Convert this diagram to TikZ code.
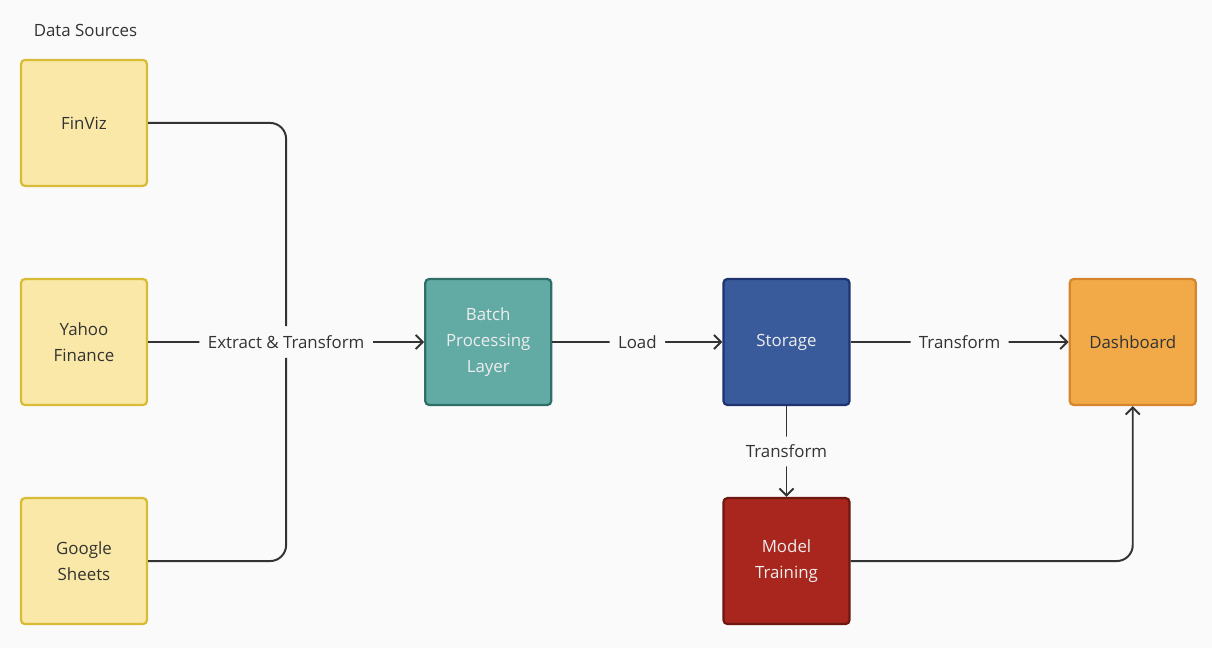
\documentclass[tikz,border=0pt]{standalone}
\usepackage{fontspec}
\setmainfont{Open Sans}
\usepackage{tikz}
\usetikzlibrary{arrows.meta, positioning}
\definecolor{paper}{HTML}{FAFAFA}
\definecolor{ink}{HTML}{333333}
\definecolor{srcfill}{HTML}{FAE8A8}
\definecolor{srcline}{HTML}{D9BC36}
\definecolor{tealfill}{HTML}{62ABA5}
\definecolor{tealline}{HTML}{2F6E69}
\definecolor{bluefill}{HTML}{3A5B9B}
\definecolor{blueline}{HTML}{1E3470}
\definecolor{orfill}{HTML}{F2AA48}
\definecolor{orline}{HTML}{D6852C}
\definecolor{redfill}{HTML}{A8261D}
\definecolor{redline}{HTML}{6E1812}
\tikzstyle{box} = [rectangle, rounded corners=0.1cm, minimum width=3.15cm, minimum height=3.15cm, line width=1.6pt, text centered, font=\fontsize{12}{18.5}\selectfont]
\tikzstyle{source} = [box, draw=srcline, fill=srcfill, text=ink]
\tikzstyle{layer} = [box, draw=tealline, fill=tealfill, text=white!93!black]
\tikzstyle{store} = [box, draw=blueline, fill=bluefill, text=white!93!black]
\tikzstyle{trainer} = [box, draw=redline, fill=redfill, text=white!93!black]
\tikzstyle{board} = [box, draw=orline, fill=orfill, text=ink]
\tikzstyle{tag} = [fill=paper, text=ink, inner xsep=6pt, inner ysep=6pt, font=\fontsize{12}{14}\selectfont]
\tikzstyle{wire} = [line width=1.4pt, draw=ink, rounded corners=0.4cm]
\tikzstyle{cable} = [wire, ->, >={Straight Barb[length=5pt, width=10pt]}]

\begin{document}
\begin{tikzpicture}[align=center, node distance = 2.27cm and 6.9cm]
\fill[paper] (0,0) rectangle (30.3,-16.2);
\useasboundingbox (0,0) rectangle (30.3,-16.2);
\node (yahoo) [source] at (2.1,-8.55) {Yahoo\\Finance};
\node (finviz) [source, above = of yahoo] {FinViz};
\node (gsheets) [source, below = of yahoo] {Google\\Sheets};
\node (srctitle) [anchor=west, text=ink, font=\fontsize{12}{14}\selectfont] at (0.72,-0.75) {Data Sources};
\node (batch) [layer, right = of yahoo] {Batch\\Processing\\Layer};
\node (storage) [store, right = 4.25cm of batch] {Storage};
\node (dash) [board, right = 5.45cm of storage] {Dashboard};
\node (model) [trainer, below = of storage] {Model\\Training};
\draw [cable] (yahoo) -- node[tag] (etl) {Extract \& Transform} (batch);
\draw [wire] (finviz) -| (etl);
\draw [wire] (gsheets) -| (etl);
\draw [cable] (batch) -- node[tag] {Load} (storage);
\draw [cable] (storage) -- node[tag] {Transform} (dash);
\draw [cable] (storage) -- node[tag] {Transform} (model);
\draw [cable] (model) -| (dash);
\end{tikzpicture}
\end{document}
